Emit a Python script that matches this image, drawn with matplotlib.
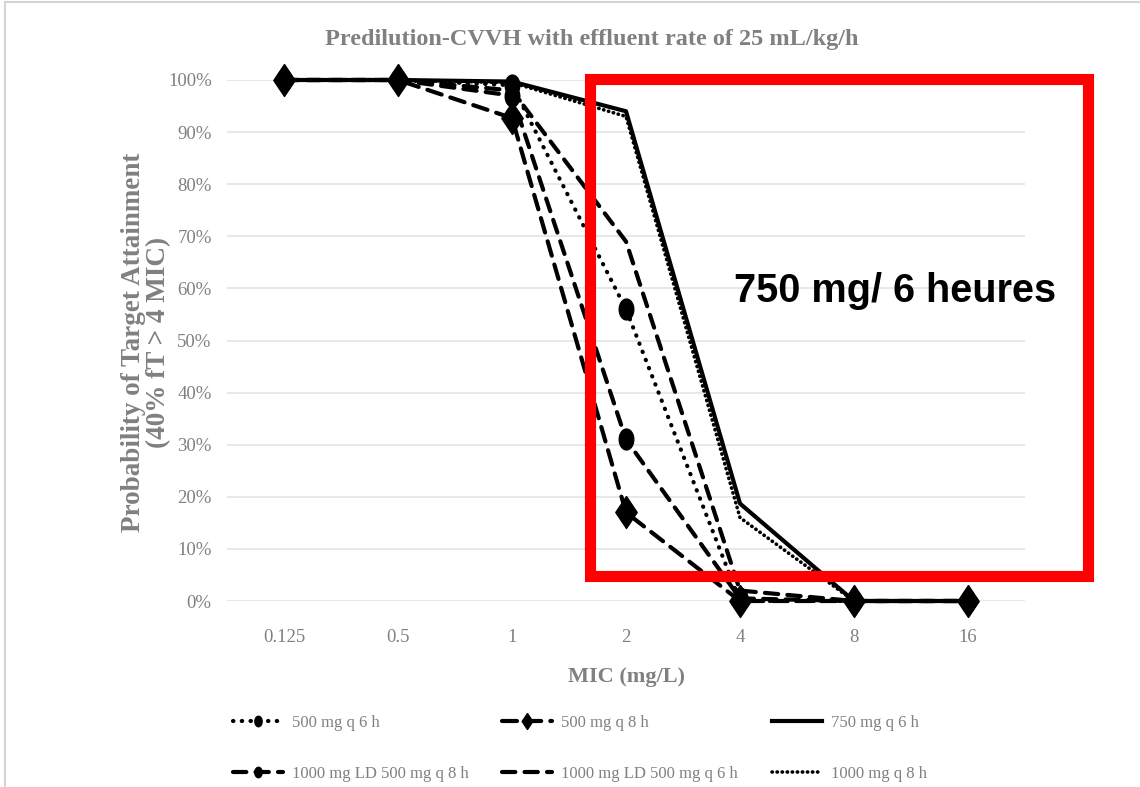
import numpy as np
import matplotlib
matplotlib.use('Agg')
import matplotlib.pyplot as plt
from matplotlib.patches import Rectangle
from matplotlib.lines import Line2D

# data (fraction of target attainment)
mic = ['0.125', '0.5', '1', '2', '4', '8', '16']
p500_q6 = [1.0, 1.0, 0.99, 0.56, 0.0, 0.0, 0.0]
p500_q8 = [1.0, 1.0, 0.927, 0.17, 0.0, 0.0, 0.0]
p750_q6 = [1.0, 1.0, 0.997, 0.94, 0.187, 0.0, 0.0]
p1000ld_q8 = [1.0, 1.0, 0.97, 0.31, 0.005, 0.0, 0.0]
p1000ld_q6 = [1.0, 1.0, 0.98, 0.69, 0.02, 0.0, 0.0]
p1000_q8 = [1.0, 1.0, 0.995, 0.93, 0.16, 0.0, 0.0]
yticks = np.arange(0, 1.01, 0.1)

W, H = 1140, 787
fig = plt.figure(figsize=(W / 100, H / 100), dpi=100)
ax = fig.add_axes([227 / W, 1 - 601 / H, (1025 - 227) / W, (601 - 80) / H])

serif = 'Liberation Serif'
gray = '#808080'
x = np.arange(len(mic))

# tall marker shapes (chart is stretched vertically)
t = np.linspace(0, 2 * np.pi, 40)
ellipse = list(zip(0.7 * np.cos(t), np.sin(t)))
diamond = [(0, 1), (0.67, 0), (0, -1), (-0.67, 0), (0, 1)]

k = dict(color='black', clip_on=False, dash_capstyle='round')
l1, = ax.plot(x, p500_q6, ls=(0, (0.1, 2.0)), lw=3, marker=ellipse, ms=15, zorder=4, **k)
l4, = ax.plot(x, p1000ld_q8, ls=(0, (3.2, 2.2)), lw=3, marker=ellipse, ms=15, zorder=4, **k)
l5, = ax.plot(x, p1000ld_q6, ls=(0, (3.2, 2.2)), lw=3, zorder=3, **k)
l6, = ax.plot(x, p1000_q8, ls=(0, (0.1, 1.3)), lw=2.6, zorder=3, **k)
l3, = ax.plot(x, p750_q6, ls='-', lw=3, zorder=3, color='black', clip_on=False)
l2, = ax.plot(x, p500_q8, ls=(0, (3.6, 2.2)), lw=3, marker=diamond, ms=23, zorder=5, **k)

ax.set_xlim(-0.5, len(mic) - 0.5)
ax.set_ylim(0, 1)
ax.set_xticks(x)
ax.set_xticklabels(mic)
ax.set_yticks(yticks)
ax.set_yticklabels(['%d%%' % round(v * 100) for v in yticks])
ax.tick_params(length=0, labelsize=13.5, labelcolor=gray)
ax.tick_params(axis='x', pad=20)
ax.tick_params(axis='y', pad=11)
for lab in ax.get_xticklabels() + ax.get_yticklabels():
    lab.set_fontfamily(serif)
ax.grid(axis='y', color='#e4e4e4', lw=1.2)
ax.set_axisbelow(True)
for s in ax.spines.values():
    s.set_visible(False)

fig.text(592 / W, 1 - 40 / H, 'Predilution-CVVH with effluent rate of 25 mL/kg/h',
         ha='center', va='center', fontsize=17.5, fontweight='bold', color=gray, family=serif)
fig.text(627 / W, 1 - 677 / H, 'MIC (mg/L)', ha='center', va='center',
         fontsize=16, fontweight='bold', color=gray, family=serif)
fig.text(146 / W, 1 - 342 / H, 'Probability of Target Attainment\n(40% fT > 4 MIC)',
         ha='center', va='center', rotation=90, fontsize=19.5, fontweight='bold',
         color=gray, family=serif, linespacing=1.0)

handles = [l1, l4, l2, l5, l3, l6]
labels = ['500 mg q 6 h', '1000 mg LD 500 mg q 8 h', '500 mg q 8 h',
          '1000 mg LD 500 mg q 6 h', '750 mg q 6 h', '1000 mg q 8 h']
leg = fig.legend(handles, labels, ncol=3, loc='upper left', frameon=False,
                 bbox_to_anchor=(233 / W, 1 - 715 / H), borderpad=0, borderaxespad=0,
                 handlelength=3.0, handletextpad=0.55, columnspacing=2.0, labelspacing=2.1,
                 markerscale=0.5, prop={'family': serif, 'size': 12}, labelcolor=gray)

# chart border
fig.add_artist(Line2D([5 / W, 1], [1 - 2 / H, 1 - 2 / H], color='#d4d4d4', lw=1.5))
fig.add_artist(Line2D([5 / W, 5 / W], [0, 1 - 2 / H], color='#d4d4d4', lw=1.5))

# red highlight box and note
fig.add_artist(Rectangle((590 / W, 1 - 576 / H), (1088 - 590) / W, (576 - 79) / H,
                         fill=False, edgecolor='#ff0000', lw=8, joinstyle='miter', zorder=10))
fig.text(734 / W, 1 - 291 / H, '750 mg/ 6 heures', ha='left', va='center',
         fontsize=28.5, fontweight='bold', color='black', family='Liberation Sans', zorder=11)

fig.savefig('out.png', dpi=100)
